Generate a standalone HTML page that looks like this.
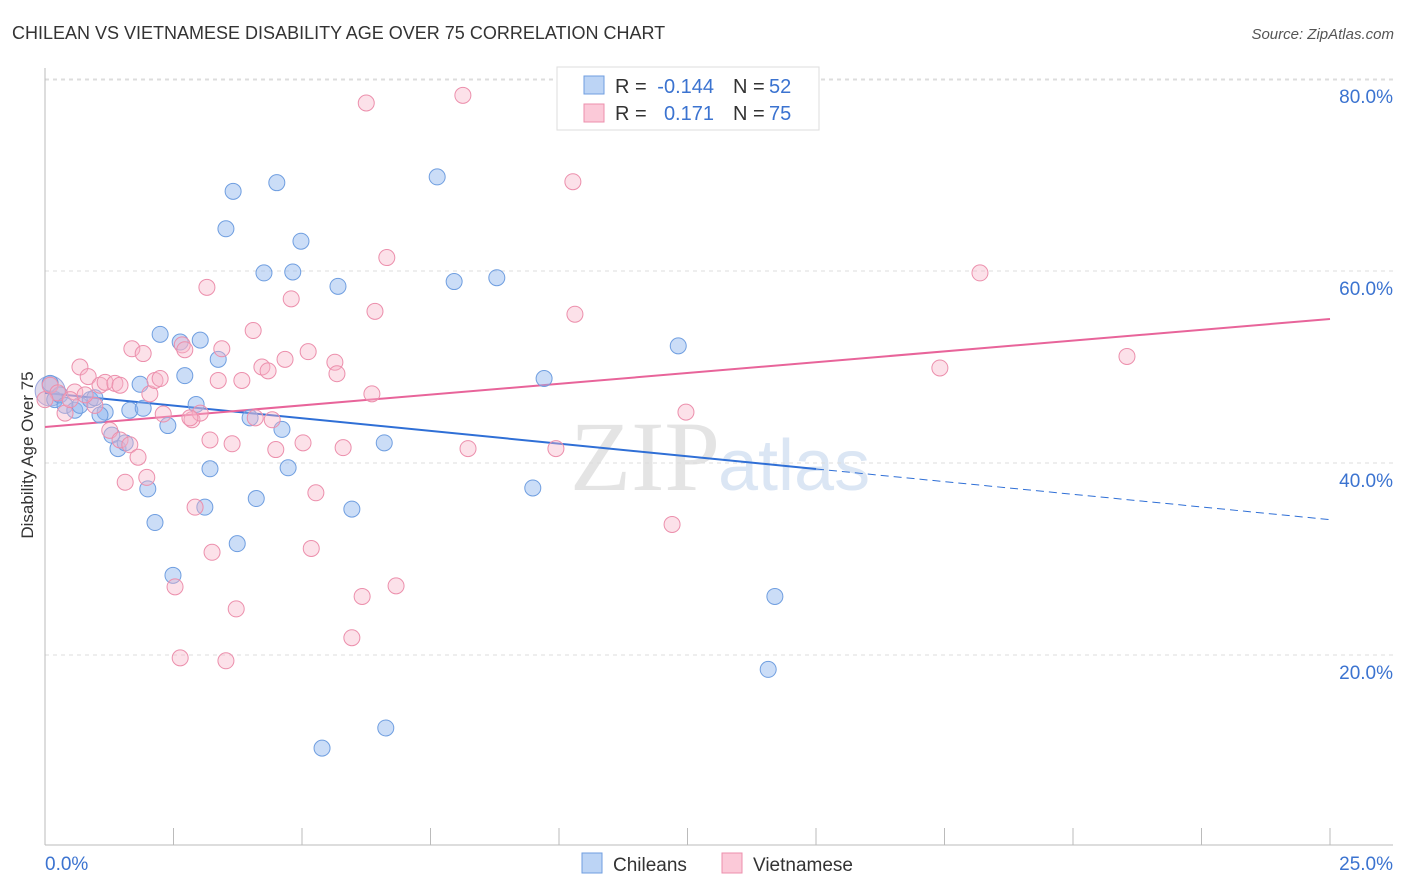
<!DOCTYPE html>
<html><head><meta charset="utf-8"><style>
body{margin:0;background:#fff;font-family:"Liberation Sans",sans-serif;}
#wrap{position:relative;width:1406px;height:892px;overflow:hidden;}
</style></head><body><div id="wrap">
<svg id="chart" width="1406" height="892" xmlns="http://www.w3.org/2000/svg">
<text x="12" y="39" font-size="18" fill="#333">CHILEAN VS VIETNAMESE DISABILITY AGE OVER 75 CORRELATION CHART</text>
<text x="1394" y="39" font-size="15" fill="#555" font-style="italic" text-anchor="end">Source: ZipAtlas.com</text>
<text x="720" y="490" font-size="100" fill="#e4e4e4" text-anchor="end" font-family="Liberation Serif">ZIP</text>
<text x="718" y="490" font-size="72" fill="#dbe6f4">atlas</text>
<g id="grid"></g><g id="axes"></g><g id="trend"></g><g id="pts"></g>
<text x="33" y="455" font-size="17" fill="#333" text-anchor="middle" transform="rotate(-90 33 455)">Disability Age Over 75</text>
<rect x="557" y="67" width="262" height="63" fill="#fff" stroke="#ddd"/>
<rect x="584" y="76" width="20" height="18" fill="#bcd4f5" stroke="#6f9ee0"/>
<rect x="584" y="104" width="20" height="18" fill="#fbc9d8" stroke="#ec8fac"/>
<g font-size="20" fill="#333">
<text x="615" y="93">R =</text><text x="714" y="93" fill="#3b73d0" text-anchor="end">-0.144</text><text x="733" y="93">N =</text><text x="769" y="93" fill="#3b73d0">52</text>
<text x="615" y="120">R =</text><text x="714" y="120" fill="#3b73d0" text-anchor="end">0.171</text><text x="733" y="120">N =</text><text x="769" y="120" fill="#3b73d0">75</text>
</g>
<rect x="582" y="853" width="20" height="20" fill="#bcd4f5" stroke="#6f9ee0"/>
<text x="613" y="871" font-size="19" fill="#333">Chileans</text>
<rect x="722" y="853" width="20" height="20" fill="#fbc9d8" stroke="#ec8fac"/>
<text x="753" y="871" font-size="19" fill="#333">Vietnamese</text>
</svg></div>
<script>
const yTicks=[20,40,60,80];
const yTickLabels=["20.0%","40.0%","60.0%","80.0%"];
const xTickLabels=["0.0%","25.0%"];
const chileX=[.10,.19,.29,.39,.58,.68,.88,.97,1.17,1.07,1.30,1.42,1.56,1.65,1.85,1.91,2.00,2.14,2.24,2.39,2.49,2.63,2.72,2.94,3.02,3.11,3.21,3.37,3.52,3.66,3.74,3.99,4.11,4.26,4.51,4.61,4.73,4.82,4.98,5.39,5.70,5.97,6.60,6.63,7.63,7.96,8.79,9.49,9.71,12.32,14.07,14.20];
const chileY=[48.3,46.6,47.1,46.0,45.5,46.0,46.6,46.8,45.3,45.0,42.9,41.5,42.1,45.5,48.2,45.7,37.3,33.8,53.4,43.9,28.3,52.6,49.1,46.1,52.8,35.4,39.4,50.8,64.4,68.3,31.6,44.7,36.3,59.8,69.2,43.5,39.5,59.9,63.1,10.3,58.4,35.2,42.1,12.4,69.8,58.9,59.3,37.4,48.8,52.2,18.5,26.1];
const vietX=[.10,.25,.39,.58,.68,.84,.97,1.07,1.17,1.26,1.36,1.46,1.56,1.65,1.69,1.81,1.91,1.98,2.04,2.14,2.24,2.30,2.53,2.63,2.67,2.72,2.86,2.92,3.02,3.15,3.21,3.25,3.37,3.44,3.52,3.64,3.72,3.83,4.05,4.22,4.34,4.42,4.49,4.67,4.79,5.02,5.12,5.18,5.27,5.64,5.68,5.80,5.97,6.17,6.25,6.36,6.42,6.65,6.83,8.13,8.23,9.94,10.27,10.31,12.20,12.47,17.41,18.19,21.05,.49,.78,1.46,2.82,4.09,0];
const vietY=[48.1,47.3,45.2,47.4,50.0,49.0,46.0,48.1,48.4,43.4,48.3,42.4,38.0,41.9,51.9,40.6,51.4,38.5,47.2,48.6,48.8,45.1,27.1,19.7,52.3,51.8,44.5,35.4,45.2,58.3,42.4,30.7,48.6,51.9,19.4,42.0,24.8,48.6,53.8,50.0,49.6,44.5,41.4,50.8,57.1,42.1,51.6,31.1,36.9,50.5,49.3,41.6,21.8,26.1,77.5,47.2,55.8,61.4,27.2,78.3,41.5,41.5,69.3,55.5,33.6,45.3,49.9,59.8,51.1,46.6,47.1,48.1,44.7,44.7,46.6];
const chileTrend=[47.3,34.1]; const chileSolidEnd=15.0;
const vietTrend=[43.75,55.0];
const X=v=>45+v*51.4, Y=v=>847-v*9.6;
const NS="http://www.w3.org/2000/svg";
function mk(t,a,p){const e=document.createElementNS(NS,t);for(const k in a)e.setAttribute(k,a[k]);p.appendChild(e);return e;}
const gG=document.getElementById('grid'),axG=document.getElementById('axes'),trG=document.getElementById('trend'),ptsG=document.getElementById('pts');
yTicks.forEach((t,i)=>{
 const l=mk('line',{x1:45,x2:1393,y1:Y(t),y2:Y(t),stroke:'#ddd','stroke-dasharray':'4,4'},gG);
 
 
 const tx=mk('text',{x:1393,y:Y(t)+24,'font-size':19,fill:'#3b73d0','text-anchor':'end'},axG);tx.textContent=yTickLabels[i];
 
 
});
const topLine=mk('line',{x1:45,x2:1393,y1:80,y2:80,stroke:'#ddd','stroke-dasharray':'4,4'},gG);


const ya=mk('line',{x1:45,x2:45,y1:68,y2:845,stroke:'#bbb'},axG);


const xa=mk('line',{x1:45,x2:1393,y1:845,y2:845,stroke:'#bbb'},axG);


for(let i=0;i<=10;i++){const t=mk('line',{x1:X(i*2.5),x2:X(i*2.5),y1:828,y2:845,stroke:'#bbb'},axG);
 
 }
[[0,'start',45],[25,'end',1393]].forEach((d,i)=>{const t=mk('text',{x:d[2],y:870,'font-size':19,fill:'#3b73d0','text-anchor':d[1]},axG);t.textContent=xTickLabels[i];
 
 });
const cy=x=>chileTrend[0]+(chileTrend[1]-chileTrend[0])*x/25;
const l1=mk('line',{x1:X(0),y1:Y(cy(0)),x2:X(chileSolidEnd),y2:Y(cy(chileSolidEnd)),stroke:'#2f6fd6','stroke-width':2},trG);


const l2=mk('line',{x1:X(chileSolidEnd),y1:Y(cy(chileSolidEnd)),x2:X(25),y2:Y(cy(25)),stroke:'#2f6fd6','stroke-width':1,'stroke-dasharray':'8,5'},trG);


const l3=mk('line',{x1:X(0),y1:Y(vietTrend[0]),x2:X(25),y2:Y(vietTrend[1]),stroke:'#e8649a','stroke-width':2},trG);


const big=mk('circle',{cx:X(0.1),cy:Y(47.5),r:15,fill:'rgba(160,150,200,0.35)',stroke:'#9aa6dd'},ptsG);


chileX.forEach((x,i)=>{const c=mk('circle',{cx:X(x),cy:Y(chileY[i]),r:8,fill:'rgba(140,180,238,0.45)',stroke:'#6f9ee0','stroke-width':1},ptsG);
 
 });
vietX.forEach((x,i)=>{const c=mk('circle',{cx:X(x),cy:Y(vietY[i]),r:8,fill:'rgba(248,180,200,0.4)',stroke:'#ec8fac','stroke-width':1},ptsG);
 
 });
</script></body></html>
